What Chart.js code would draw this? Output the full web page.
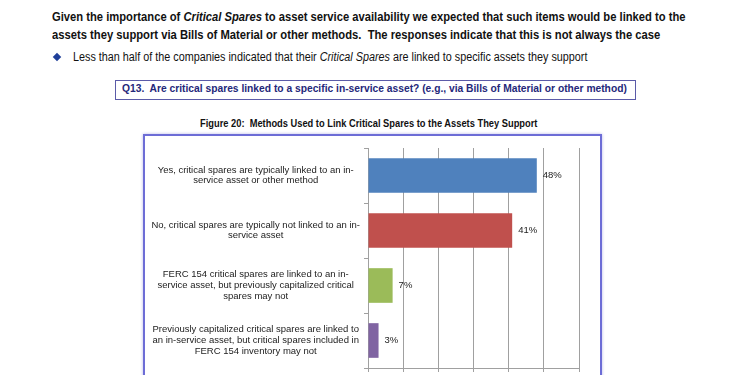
<!DOCTYPE html>
<html>
<head>
<meta charset="utf-8">
<script src="https://cdn.jsdelivr.net/npm/chart.js@4/dist/chart.umd.min.js"></script>
<style>
  html, body { margin: 0; padding: 0; background: #fff; overflow: hidden; }
  body { width: 740px; height: 375px; position: relative; font-family: "Liberation Sans", Arial, sans-serif; }
  .line { position: absolute; white-space: nowrap; transform-origin: 0 50%; color: #111; }
  .head { font-size: 12.5px; font-weight: bold; }
  .bullet-text { font-size: 12.5px; }
  .diamond { position: absolute; left: 54px; top: 54px; width: 6px; height: 6px; background: #1f3f99; transform: rotate(45deg); }
  .qbox { position: absolute; left: 115px; top: 80px; width: 519px; height: 18px; border: 1px solid #5b5ba8; }
  .qtext { font-size: 11.5px; font-weight: bold; color: #25287a; }
  .figtitle { font-size: 10px; font-weight: bold; }
  .frame { position: absolute; left: 143px; top: 134px; width: 455px; height: 300px;
           border: 2px solid #6d6dd6; box-shadow: 0 0 3px #b8b8e8; }
  .wrap { position: relative; width: 455px; height: 272px; }
</style>
</head>
<body>
<div class="line head" data-w="634" style="left:52px; top:10px;">Given the importance of <i>Critical Spares</i> to asset service availability we expected that such items would be linked to the</div>
<div class="line head" data-w="608" style="left:52px; top:28px;">assets they support via Bills of Material or other methods.&nbsp; The responses indicate that this is not always the case</div>
<div class="diamond"></div>
<div class="line bullet-text" data-w="514" style="left:73px; top:50px;">Less than half of the companies indicated that their <i>Critical Spares</i> are linked to specific assets they support</div>
<div class="qbox"></div>
<div class="line qtext" data-w="505" style="left:122px; top:82px;">Q13.&nbsp; Are critical spares linked to a specific in-service asset? (e.g., via Bills of Material or other method)</div>
<div class="line figtitle" data-w="337" style="left:200px; top:118px;">Figure 20:&nbsp; Methods Used to Link Critical Spares to the Assets They Support</div>
<div class="frame"><div class="wrap"><canvas id="bar-chart"></canvas></div></div>

<script>
// squeeze the header lines to the widths in the original
document.querySelectorAll('.line').forEach(el => {
    const target = parseFloat(el.dataset.w);
    el.style.transform = 'scaleX(' + (target / el.offsetWidth) + ')';
});

const methodLabels = [
    ['Yes, critical spares are typically linked to an in-', 'service asset or other method'],
    ['No, critical spares are typically not linked to an in-', 'service asset'],
    ['FERC 154 critical spares are linked to an in-', 'service asset, but previously capitalized critical', 'spares may not'],
    ['Previously capitalized critical spares are linked to', 'an in-service asset, but critical spares included in', 'FERC 154 inventory may not']
];
const methodShares = [48, 41, 7, 3];
const barColors = ['#4F81BD', '#C0504D', '#9BBB59', '#8064A2'];
const axisMax = 60;
const axisStep = 10;

const fontFamily = '"Liberation Sans", Arial, sans-serif';

// percent labels just right of each bar
const barValueLabels = {
    id: 'barValueLabels',
    afterDatasetsDraw(chart) {
        const ctx = chart.ctx;
        const meta = chart.getDatasetMeta(0);
        ctx.save();
        ctx.font = '9.5px ' + fontFamily;
        ctx.fillStyle = '#222';
        ctx.textAlign = 'left';
        ctx.textBaseline = 'middle';
        meta.data.forEach((bar, i) => {
            ctx.fillText(methodShares[i] + '%', bar.x + 6, bar.y);
        });
        ctx.restore();
    }
};

let barChart = new Chart('bar-chart', {
    type: 'bar',
    plugins: [barValueLabels],
    data: {
        labels: methodLabels,
        datasets: [{
            data: methodShares,
            backgroundColor: barColors,
            borderWidth: 0,
            barPercentage: 0.63,
            categoryPercentage: 1
        }]
    },
    options: {
        indexAxis: 'y',
        responsive: true,
        maintainAspectRatio: false,
        animation: false,
        layout: { padding: { top: 12, right: 21, left: 0, bottom: 0 } },
        plugins: {
            legend: false,
            tooltip: { enabled: false }
        },
        scales: {
            y: {
                afterFit: scale => {
                    scale.width = 223;
                    // labels sit inside their category band, no extra room needed
                    scale.paddingTop = 0;
                    scale.paddingBottom = 0;
                },
                grid: { drawOnChartArea: false, drawTicks: true, tickLength: 4, color: '#a0a0a0' },
                border: { display: true, color: '#a0a0a0' },
                ticks: {
                    crossAlign: 'center',
                    padding: 4,
                    color: '#222',
                    font: { family: fontFamily, size: 9.5, lineHeight: 1.13 }
                }
            },
            x: {
                min: 0,
                max: axisMax,
                afterFit: scale => { scale.height = 40; },
                grid: { color: '#a0a0a0', drawTicks: true, tickLength: 4 },
                border: { display: true, color: '#a0a0a0' },
                ticks: {
                    stepSize: axisStep,
                    color: '#222',
                    font: { family: fontFamily, size: 9.5 },
                    callback: value => value + '%'
                }
            }
        }
    }
});
</script>
</body>
</html>
